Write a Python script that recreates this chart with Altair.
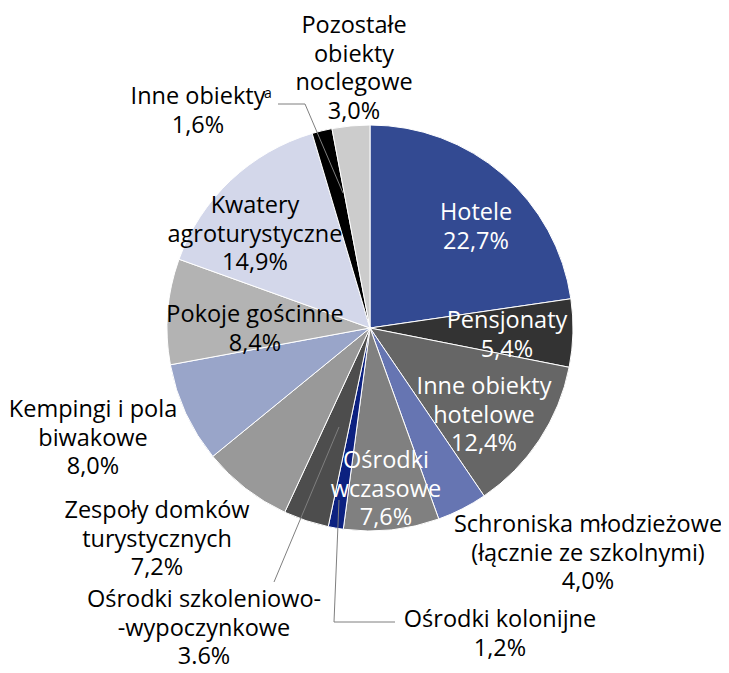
import altair as alt
import pandas as pd

# ---- data ----
categories = [
    "Hotele", "Pensjonaty", "Inne obiekty hotelowe",
    "Schroniska młodzieżowe (łącznie ze szkolnymi)", "Ośrodki wczasowe",
    "Ośrodki kolonijne", "Ośrodki szkoleniowo-wypoczynkowe",
    "Zespoły domków turystycznych", "Kempingi i pola biwakowe",
    "Pokoje gościnne", "Kwatery agroturystyczne", "Inne obiekty",
    "Pozostałe obiekty noclegowe",
]
values = [22.7, 5.4, 12.4, 4.0, 7.6, 1.2, 3.6, 7.2, 8.0, 8.4, 14.9, 1.6, 3.0]
value_labels = ["22,7%", "5,4%", "12,4%", "4,0%", "7,6%", "1,2%", "3.6%",
                "7,2%", "8,0%", "8,4%", "14,9%", "1,6%", "3,0%"]
label_names = [
    "Hotele", "Pensjonaty", "Inne obiekty\nhotelowe",
    "Schroniska młodzieżowe\n(łącznie ze szkolnymi)", "Ośrodki\nwczasowe",
    "Ośrodki kolonijne", "Ośrodki szkoleniowo-\n-wypoczynkowe",
    "Zespoły domków\nturystycznych", "Kempingi i pola\nbiwakowe",
    "Pokoje gościnne", "Kwatery\nagroturystyczne", "Inne obiekty",
    "Pozostałe\nobiekty\nnoclegowe",
]

# ---- styles / layout ----
colors = ["#334A92", "#333333", "#666666", "#6675B2", "#808080", "#0C2180",
          "#4D4D4D", "#999999", "#99A5C9", "#B3B3B3", "#D3D7EA", "#000000",
          "#CCCCCC"]
text_colors = ["white", "white", "white", "black", "white", "black", "black",
               "black", "black", "black", "black", "black", "black"]
# label anchor (page pixels): centre x, baseline of first line
label_x = [476, 507, 484, 588, 386, 500, 204, 157, 93, 255, 255, 198, 354]
label_y = [220, 328, 394, 532, 468, 627, 607, 518, 417, 322, 213, 104, 33]

M = 8  # page margin
CX, CY, R = 370 - M, 328 - M, 203

df = pd.DataFrame({
    "cat": categories, "value": values, "idx": list(range(len(values))),
})
lab = pd.DataFrame({
    "text": [n + "\n" + v for n, v in zip(label_names, value_labels)],
    "x": [x - M for x in label_x], "y": [y - M for y in label_y],
    "tc": text_colors,
})

leaders = pd.DataFrame({
    "x":  [278, 305, 274, 339, 334],
    "y":  [104, 104, 582, 500, 622],
    "x2": [305, 343, 339, 334, 395],
    "y2": [104, 193, 427, 622, 622],
})
for c in ["x", "x2", "y", "y2"]:
    leaders[c] = leaders[c] - M

FONT = "Open Sans"

pie = alt.Chart(df).mark_arc(stroke="white", strokeWidth=1, outerRadius=R).encode(
    theta=alt.Theta("value:Q", stack=True),
    color=alt.Color("cat:N", scale=alt.Scale(domain=categories, range=colors), legend=None),
    order=alt.Order("idx:Q"),
    x=alt.value(CX), y=alt.value(CY),
)

lines = alt.Chart(leaders).mark_rule(color="#7f7f7f", strokeWidth=1).encode(
    x=alt.X("x:Q", scale=None), y=alt.Y("y:Q", scale=None),
    x2="x2:Q", y2="y2:Q",
)

texts = alt.Chart(lab).mark_text(
    align="center", baseline="alphabetic", fontSize=23.5, font=FONT,
    lineBreak="\n", lineHeight=28.5,
).encode(
    x=alt.X("x:Q", scale=None), y=alt.Y("y:Q", scale=None),
    text="text:N",
    color=alt.Color("tc:N", scale=None),
)

sup = alt.Chart(pd.DataFrame({"t": ["a"], "x": [268 - M], "y": [98 - M]})).mark_text(
    align="center", baseline="alphabetic", fontSize=14, font=FONT, color="black",
).encode(x=alt.X("x:Q", scale=None), y=alt.Y("y:Q", scale=None), text="t:N")

chart = alt.layer(pie, lines, texts, sup).properties(
    width=713, height=657, autosize=alt.AutoSizeParams(type="none"), padding=0,
).configure_view(stroke=None)

chart.save("out.html", embed_options={"renderer": "svg", "actions": False})
